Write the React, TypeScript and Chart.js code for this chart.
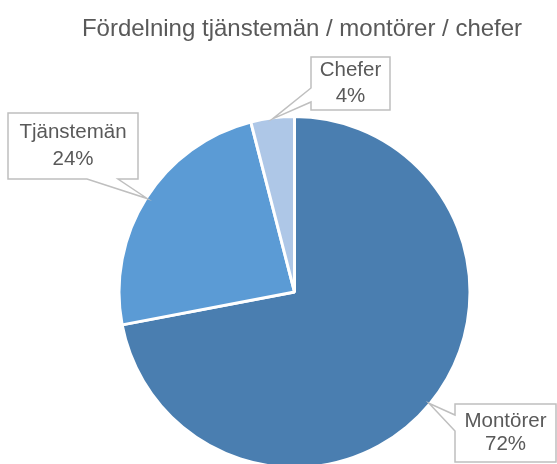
import React, { useEffect, useRef } from "react";
import { Chart, registerables } from "chart.js";

Chart.register(...registerables);

const TITLE = "Fördelning tjänstemän / montörer / chefer";
const categories = ["Montörer", "Tjänstemän", "Chefer"];
const shares = [72, 24, 4];
const sliceColors = ["#4a7eb0", "#5b9bd5", "#aec7e7"];

// callout box layout (left, top, right, bottom, tail side, tail base span)
const calloutLayout = [
  { l: 455, t: 404, r: 556, b: 462, side: "left", b0: 415, b1: 431, lineGap: 23 },
  { l: 8, t: 113, r: 138, b: 179, side: "bottom", b0: 87, b1: 118, lineGap: 27 },
  { l: 311, t: 57, r: 390, b: 110, side: "left", b0: 88, b1: 102, lineGap: 26 },
];

const FONT = '"Liberation Sans", Arial, sans-serif';
const TEXT_COLOR = "#595959";

const calloutPlugin = {
  id: "callouts",
  afterDraw(chart: any) {
    const ctx = chart.ctx;
    ctx.save();
    // title
    ctx.fillStyle = TEXT_COLOR;
    ctx.font = `24px ${FONT}`;
    ctx.textAlign = "center";
    ctx.textBaseline = "alphabetic";
    ctx.fillText(TITLE, 302, 36);

    const meta = chart.getDatasetMeta(0);
    meta.data.forEach((arc: any, i: number) => {
      const p = arc.getProps(["x", "y", "startAngle", "endAngle", "outerRadius"], true);
      const mid = (p.startAngle + p.endAngle) / 2;
      const tx = p.x + Math.cos(mid) * (p.outerRadius - 1);
      const ty = p.y + Math.sin(mid) * (p.outerRadius - 1);
      const c = calloutLayout[i];
      ctx.beginPath();
      if (c.side === "left") {
        ctx.moveTo(c.l, c.t);
        ctx.lineTo(c.r, c.t);
        ctx.lineTo(c.r, c.b);
        ctx.lineTo(c.l, c.b);
        ctx.lineTo(c.l, c.b1);
        ctx.lineTo(tx, ty);
        ctx.lineTo(c.l, c.b0);
        ctx.closePath();
      } else {
        ctx.moveTo(c.l, c.t);
        ctx.lineTo(c.r, c.t);
        ctx.lineTo(c.r, c.b);
        ctx.lineTo(c.b1, c.b);
        ctx.lineTo(tx, ty);
        ctx.lineTo(c.b0, c.b);
        ctx.lineTo(c.l, c.b);
        ctx.closePath();
      }
      ctx.fillStyle = "#ffffff";
      ctx.fill();
      ctx.strokeStyle = "#bfbfbf";
      ctx.lineWidth = 1.5;
      ctx.lineJoin = "miter";
      ctx.stroke();

      const cx = (c.l + c.r) / 2;
      const cy = (c.t + c.b) / 2;
      ctx.fillStyle = TEXT_COLOR;
      ctx.font = `20.5px ${FONT}`;
      ctx.textAlign = "center";
      ctx.textBaseline = "middle";
      ctx.fillText(categories[i], cx, cy - c.lineGap / 2);
      ctx.fillText(`${shares[i]}%`, cx, cy + c.lineGap / 2);
    });
    ctx.restore();
  },
};

export default function App() {
  const canvasRef = useRef<HTMLCanvasElement | null>(null);

  useEffect(() => {
    if (!canvasRef.current) return;
    const chart = new Chart(canvasRef.current, {
      type: "pie",
      data: {
        labels: categories,
        datasets: [
          {
            data: shares,
            backgroundColor: sliceColors,
            borderColor: "#ffffff",
            borderWidth: 3,
          },
        ],
      },
      options: {
        responsive: false,
        animation: false,
        devicePixelRatio: 1,
        events: [],
        layout: {
          padding: { left: 117.5, right: 85.5, top: 115, bottom: 131 },
        },
        plugins: {
          legend: { display: false },
          tooltip: { enabled: false },
          title: { display: false },
        },
      },
      plugins: [calloutPlugin],
    });
    return () => chart.destroy();
  }, []);

  return (
    <div style={{ position: "absolute", left: 0, top: 0, width: 557, height: 600, background: "#ffffff" }}>
      <canvas ref={canvasRef} width={557} height={600} style={{ display: "block" }} />
    </div>
  );
}
